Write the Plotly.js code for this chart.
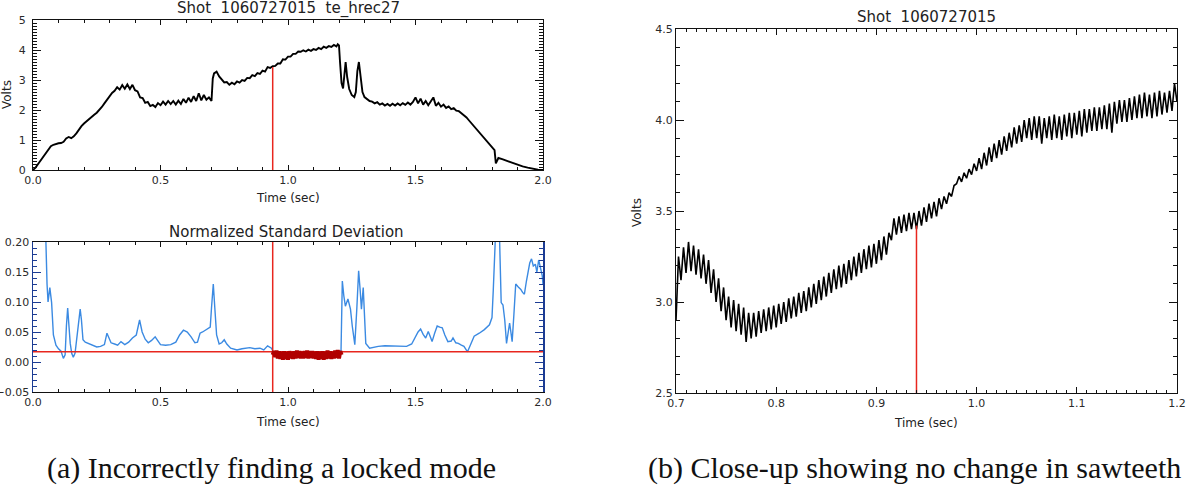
<!DOCTYPE html>
<html>
<head>
<meta charset="utf-8">
<script src="https://cdn.plot.ly/plotly-3.0.1.min.js"></script>
<style>
  html, body { margin: 0; padding: 0; background: #fff; }
  #chart { width: 1195px; height: 486px; }
</style>
</head>
<body>
<div id="chart"></div>
<script>
// ---------------- DATA ----------------
// Panel (a) top: te_hrec27 signal, Volts vs Time (sec)
const TE_T = [0.00,0.01,0.02,0.03,0.04,0.05,0.06,0.07,0.08,0.09,0.10,0.11,0.12,0.13,0.14,0.15,0.16,0.17,0.18,0.19,
  0.20,0.21,0.22,0.23,0.24,0.25,0.26,0.27,0.28,0.29,0.30,0.31,0.32,0.33,0.34,0.35,0.36,0.37,0.38,0.39,
  0.40,0.41,0.42,0.43,0.44,0.45,0.46,0.47,0.48,0.49,0.50,0.51,0.52,0.53,0.54,0.55,0.56,0.57,0.58,0.59,
  0.60,0.61,0.62,0.63,0.64,0.65,0.66,0.67,0.68,0.69,0.70,0.705,0.71,0.72,0.73,0.74,0.75,0.76,0.77,0.78,0.79,
  0.80,0.81,0.82,0.83,0.84,0.85,0.86,0.87,0.88,0.89,0.90,0.91,0.92,0.93,0.94,0.95,0.96,0.97,0.98,0.99,
  1.00,1.01,1.02,1.03,1.04,1.05,1.06,1.07,1.08,1.09,1.10,1.11,1.12,1.13,1.14,1.15,1.16,1.17,1.18,1.19,
  1.195,1.200,1.204,1.210,1.216,1.222,1.226,1.232,1.240,1.250,1.260,1.266,1.272,1.278,1.285,1.292,1.300,
  1.31,1.32,1.33,1.34,1.35,1.36,1.37,1.38,1.39,1.40,1.41,1.42,1.43,1.44,1.45,1.46,1.47,1.48,1.49,
  1.50,1.51,1.52,1.53,1.54,1.55,1.56,1.57,1.58,1.59,1.60,1.61,1.62,1.63,1.64,1.65,1.66,1.67,1.68,1.69,
  1.70,1.71,1.72,1.73,1.74,1.75,1.76,1.77,1.78,1.79,1.80,1.81,1.815,1.825,1.84,1.86,1.88,1.90,1.92,1.94,1.96,1.98,2.00];
const TE_V = [0.00,0.08,0.20,0.32,0.46,0.58,0.70,0.79,0.84,0.87,0.89,0.90,0.94,1.05,1.10,1.06,1.12,1.22,1.36,1.46,
  1.55,1.63,1.70,1.77,1.84,1.91,2.00,2.10,2.22,2.34,2.46,2.57,2.64,2.76,2.68,2.83,2.71,2.85,2.70,2.84,
  2.66,2.62,2.42,2.40,2.24,2.27,2.13,2.17,2.10,2.23,2.16,2.28,2.18,2.30,2.20,2.30,2.18,2.31,2.20,2.37,
  2.24,2.41,2.27,2.46,2.30,2.56,2.32,2.50,2.34,2.42,2.30,3.05,3.22,3.28,3.12,3.02,2.92,2.93,2.84,2.91,2.86,
  2.95,2.91,3.00,2.97,3.07,3.06,3.16,3.13,3.23,3.20,3.31,3.28,3.43,3.40,3.46,3.47,3.55,3.55,3.69,3.68,
  3.78,3.78,3.87,3.87,3.95,3.94,3.99,3.95,4.01,3.97,4.03,4.00,4.07,4.03,4.11,4.07,4.13,4.10,4.17,4.12,
  4.19,4.15,3.60,2.90,2.72,3.30,3.60,3.10,2.70,2.50,2.43,2.60,3.30,3.60,3.10,2.60,2.43,
  2.36,2.30,2.28,2.22,2.26,2.18,2.22,2.15,2.20,2.14,2.21,2.15,2.22,2.16,2.23,2.17,2.25,2.18,2.27,
  2.42,2.22,2.38,2.18,2.30,2.16,2.28,2.42,2.14,2.24,2.11,2.18,2.07,2.12,2.03,2.06,1.98,1.96,1.89,1.83,
  1.75,1.65,1.55,1.45,1.35,1.25,1.15,1.05,0.95,0.86,0.76,0.66,0.22,0.40,0.36,0.30,0.23,0.17,0.12,0.08,0.04,0.01,0.00];

// Panel (a) bottom: Normalized Standard Deviation
const NSD_T = [0.040,0.050,0.055,0.059,0.066,0.073,0.080,0.090,0.100,0.110,0.119,0.126,0.131,0.136,0.141,0.146,0.152,0.158,0.165,0.172,
  0.180,0.185,0.190,0.196,0.205,0.220,0.235,0.250,0.265,0.280,0.290,0.298,0.306,0.320,0.332,0.345,0.360,0.375,0.390,0.405,
  0.418,0.428,0.440,0.452,0.465,0.479,0.490,0.500,0.520,0.540,0.560,0.575,0.590,0.605,0.620,0.635,0.645,0.655,0.665,0.680,
  0.695,0.700,0.707,0.713,0.720,0.730,0.740,0.750,0.760,0.775,0.790,0.800,0.820,0.850,0.870,0.890,0.905,0.920,0.935,0.945,
  0.960,1.000,1.050,1.100,1.150,1.200,1.208,1.213,1.219,1.225,1.235,1.245,1.252,1.262,1.270,1.277,1.283,1.288,1.295,1.300,
  1.305,1.320,1.340,1.354,1.380,1.410,1.440,1.465,1.485,1.500,1.510,1.520,1.530,1.540,1.550,1.560,1.565,1.575,1.585,1.595,
  1.605,1.615,1.627,1.640,1.647,1.658,1.668,1.680,1.690,1.704,1.715,1.730,1.750,1.770,1.790,1.800,1.805,1.810,1.822,1.830,
  1.836,1.843,1.850,1.857,1.864,1.869,1.874,1.879,1.886,1.893,1.903,1.913,1.920,1.927,1.935,1.941,1.948,1.955,1.962,1.970,
  1.976,1.983,1.990,1.997,2.000];
const NSD_V = [0.300,0.210,0.130,0.100,0.124,0.099,0.045,0.028,0.022,0.018,0.006,0.012,0.060,0.090,0.060,0.031,0.014,0.008,0.015,0.040,
  0.070,0.088,0.070,0.037,0.033,0.030,0.027,0.025,0.026,0.029,0.048,0.040,0.032,0.030,0.028,0.034,0.029,0.033,0.040,0.045,
  0.070,0.050,0.038,0.032,0.036,0.042,0.034,0.029,0.028,0.029,0.033,0.045,0.053,0.050,0.042,0.032,0.033,0.048,0.050,0.054,
  0.058,0.090,0.130,0.090,0.045,0.030,0.032,0.037,0.030,0.023,0.021,0.020,0.022,0.024,0.022,0.023,0.020,0.027,0.023,0.015,
  0.012,0.010,0.011,0.012,0.011,0.013,0.020,0.135,0.110,0.093,0.105,0.088,0.060,0.029,0.090,0.152,0.120,0.088,0.124,0.080,
  0.031,0.023,0.025,0.026,0.027,0.027,0.026,0.026,0.030,0.043,0.050,0.055,0.046,0.040,0.051,0.040,0.034,0.048,0.060,0.058,
  0.057,0.045,0.034,0.035,0.040,0.032,0.031,0.028,0.026,0.017,0.028,0.043,0.048,0.054,0.062,0.074,0.120,0.230,0.300,0.200,
  0.099,0.095,0.070,0.031,0.050,0.065,0.050,0.034,0.080,0.130,0.125,0.121,0.116,0.113,0.135,0.152,0.165,0.172,0.160,0.163,
  0.150,0.170,0.155,0.144,0.130];

// Locked-mode flagged samples (dark red), sampled every LOCK_DT from LOCK_START
const LOCK_START = 0.94, LOCK_DT = 0.005;
const LOCK_V = [0.012,0.018,0.008,0.019,0.006,0.018,0.005,0.017,0.004,0.018,
  0.005,0.016,0.004,0.018,0.006,0.017,0.005,0.018,0.006,0.019,
  0.007,0.018,0.006,0.017,0.006,0.018,0.007,0.019,0.006,0.018,
  0.007,0.018,0.006,0.017,0.005,0.018,0.004,0.017,0.005,0.018,
  0.004,0.017,0.005,0.019,0.006,0.018,0.005,0.017,0.006,0.019,
  0.007,0.020,0.006,0.018,0.012];

// Panel (b): close-up, sampled every ZOOM_DT from ZOOM_START
const ZOOM_START = 0.70, ZOOM_DT = 0.0025;
const ZOOM_V = [2.90,3.25,3.12,3.30,3.16,3.33,3.17,3.31,3.15,3.29,
  3.13,3.26,3.10,3.23,3.05,3.18,3.00,3.13,2.95,3.08,
  2.90,3.03,2.86,3.01,2.84,2.99,2.82,2.97,2.78,2.94,
  2.80,2.94,2.81,2.95,2.83,2.96,2.84,2.97,2.85,2.98,
  2.86,2.99,2.88,3.00,2.89,3.02,2.91,3.03,2.92,3.05,
  2.94,3.06,2.95,3.08,2.97,3.10,2.99,3.12,3.01,3.14,
  3.03,3.16,3.05,3.18,3.07,3.20,3.08,3.21,3.10,3.23,
  3.12,3.25,3.14,3.27,3.16,3.29,3.18,3.31,3.19,3.32,
  3.21,3.34,3.23,3.36,3.26,3.38,3.34,3.46,3.37,3.47,
  3.38,3.48,3.39,3.49,3.40,3.49,3.40,3.50,3.42,3.52,
  3.44,3.54,3.46,3.55,3.47,3.57,3.51,3.58,3.54,3.60,
  3.58,3.64,3.65,3.69,3.66,3.71,3.68,3.73,3.70,3.76,
  3.72,3.79,3.73,3.82,3.75,3.85,3.77,3.87,3.79,3.89,
  3.81,3.91,3.83,3.93,3.85,3.96,3.87,3.97,3.88,4.00,
  3.90,4.01,3.89,4.02,3.90,4.02,3.87,4.01,3.90,4.02,
  3.89,4.03,3.90,4.02,3.89,4.03,3.91,4.04,3.90,4.04,
  3.92,4.05,3.91,4.06,3.93,4.06,3.94,4.07,3.94,4.07,
  3.95,4.08,3.95,4.09,3.93,4.10,3.98,4.11,3.99,4.11,
  3.99,4.12,4.00,4.13,4.01,4.14,4.01,4.15,4.02,4.14,
  4.01,4.15,4.02,4.16,4.03,4.15,4.04,4.16,4.05,4.20,
  4.10];

// Marker values
const LOCK_TIME = 0.94;       // red vertical marker
const LOCK_VOLTS = 3.43;      // signal level at marker (top panel)
const ZOOM_LOCK_VOLTS = 3.42; // signal level at marker (close-up)
const THRESHOLD = 0.017;      // red horizontal threshold

// Axis ranges
const X1_RANGE = [0, 2], Y1_RANGE = [0, 5];
const X2_RANGE = [0, 2], Y2_RANGE = [-0.05, 0.20];
const X3_RANGE = [0.7, 1.2], Y3_RANGE = [2.5, 4.5];

// Text
const TITLE_A1 = 'Shot  1060727015  te_hrec27';
const TITLE_A2 = 'Normalized Standard Deviation';
const TITLE_B = 'Shot  1060727015';
const X_TITLE = 'Time (sec)';
const Y_TITLE = 'Volts';
const CAPTION_A = '(a) Incorrectly finding a locked mode';
const CAPTION_B = '(b) Close-up showing no change in sawteeth';

// ---------------- LAYOUT ----------------
const W = 1195, H = 486;
const fx = p => p / W;
const fy = p => 1 - p / H;

const SANS = 'DejaVu Sans, sans-serif';
const SERIF = 'Liberation Serif, serif';
const TICKFONT = {family: SANS, size: 11, color: '#2a2a2a'};
const RED = '#e8261e';

function axis(extra) {
  return Object.assign({
    showgrid: false, zeroline: false, showline: true, linecolor: '#111', linewidth: 1,
    mirror: 'allticks', ticks: 'inside', ticklen: 6, tickwidth: 1, tickcolor: '#111',
    tickfont: TICKFONT, fixedrange: true
  }, extra);
}

const traces = [
  {x: TE_T, y: TE_V, xaxis: 'x', yaxis: 'y', mode: 'lines', line: {color: '#000', width: 1.9}},
  {x: [LOCK_TIME, LOCK_TIME], y: [Y1_RANGE[0], LOCK_VOLTS], xaxis: 'x', yaxis: 'y', mode: 'lines', line: {color: RED, width: 1.5}},

  {x: NSD_T, y: NSD_V, xaxis: 'x2', yaxis: 'y2', mode: 'lines', line: {color: '#3b8ae2', width: 1.4}},
  {x: X2_RANGE, y: [THRESHOLD, THRESHOLD], xaxis: 'x2', yaxis: 'y2', mode: 'lines', line: {color: RED, width: 1.5}},
  {x: [LOCK_TIME, LOCK_TIME], y: Y2_RANGE, xaxis: 'x2', yaxis: 'y2', mode: 'lines', line: {color: RED, width: 1.5}},
  {x0: LOCK_START, dx: LOCK_DT, y: LOCK_V, xaxis: 'x2', yaxis: 'y2', mode: 'lines', line: {color: '#b00000', width: 4}},

  {x0: ZOOM_START, dx: ZOOM_DT, y: ZOOM_V, xaxis: 'x3', yaxis: 'y3', mode: 'lines', line: {color: '#000', width: 1.6}},
  {x: [LOCK_TIME, LOCK_TIME], y: [Y3_RANGE[0], ZOOM_LOCK_VOLTS], xaxis: 'x3', yaxis: 'y3', mode: 'lines', line: {color: RED, width: 1.5}}
];

const ann = (text, x, y, size, opts) => Object.assign({
  text: text, x: fx(x), y: fy(y), xref: 'paper', yref: 'paper', showarrow: false,
  xanchor: 'center', yanchor: 'middle', font: {family: SANS, size: size, color: '#222'}
}, opts || {});

const capFont = {family: SERIF, size: 30, color: '#111'};

const layout = {
  width: W, height: H, margin: {l: 0, r: 0, t: 0, b: 0},
  paper_bgcolor: '#fff', plot_bgcolor: '#fff', showlegend: false,
  xaxis: axis({domain: [fx(33), fx(543)], range: X1_RANGE, anchor: 'y', dtick: 0.5, tickformat: '.1f', ticklen: 5,
    minor: {dtick: 0.1, ticks: 'inside', ticklen: 3, tickcolor: '#111'}}),
  yaxis: axis({domain: [fy(170), fy(20)], range: Y1_RANGE, anchor: 'x', dtick: 1, ticklen: 8, ticklabelstandoff: 4,
    minor: {dtick: 0.1, ticks: 'inside', ticklen: 4, tickcolor: '#111'}}),
  xaxis2: axis({domain: [fx(33), fx(543)], range: X2_RANGE, anchor: 'y2', dtick: 0.5, tickformat: '.1f', ticklen: 5,
    minor: {dtick: 0.1, ticks: 'inside', ticklen: 3, tickcolor: '#111'}}),
  yaxis2: axis({domain: [fy(392), fy(242)], range: Y2_RANGE, anchor: 'x2', dtick: 0.05, tickformat: '.2f', ticklen: 8,
    linecolor: '#1c3c94', tickcolor: '#1c3c94', linewidth: 1.5,
    minor: {dtick: 0.01, ticks: 'inside', ticklen: 4, tickcolor: '#1c3c94'}}),
  xaxis3: axis({domain: [fx(676), fx(1177)], range: X3_RANGE, anchor: 'y3', dtick: 0.1, tickformat: '.1f', ticklen: 6,
    minor: {dtick: 0.01, ticks: 'inside', ticklen: 3, tickcolor: '#111'}}),
  yaxis3: axis({domain: [fy(393), fy(29)], range: Y3_RANGE, anchor: 'x3', dtick: 0.5, tickformat: '.1f', ticklen: 8,
    minor: {dtick: 0.1, ticks: 'inside', ticklen: 4, tickcolor: '#111'}}),
  annotations: [
    ann(TITLE_A1, 288, 9, 15),
    ann(X_TITLE, 288, 198, 12),
    ann(Y_TITLE, 7, 95, 12, {textangle: -90}),
    ann(TITLE_A2, 286, 232, 15),
    ann(X_TITLE, 288, 422, 12),
    ann(TITLE_B, 926, 17, 15),
    ann(X_TITLE, 926, 423, 12),
    ann(Y_TITLE, 637, 213, 12, {textangle: -90}),
    ann(CAPTION_A, 46, H, 30, {xanchor: 'left', yanchor: 'bottom', borderpad: 0, font: capFont}),
    ann(CAPTION_B, 647, H, 30, {xanchor: 'left', yanchor: 'bottom', borderpad: 0, font: capFont})
  ]
};

Plotly.newPlot('chart', traces, layout, {displayModeBar: false, staticPlot: true});
</script>
</body>
</html>
